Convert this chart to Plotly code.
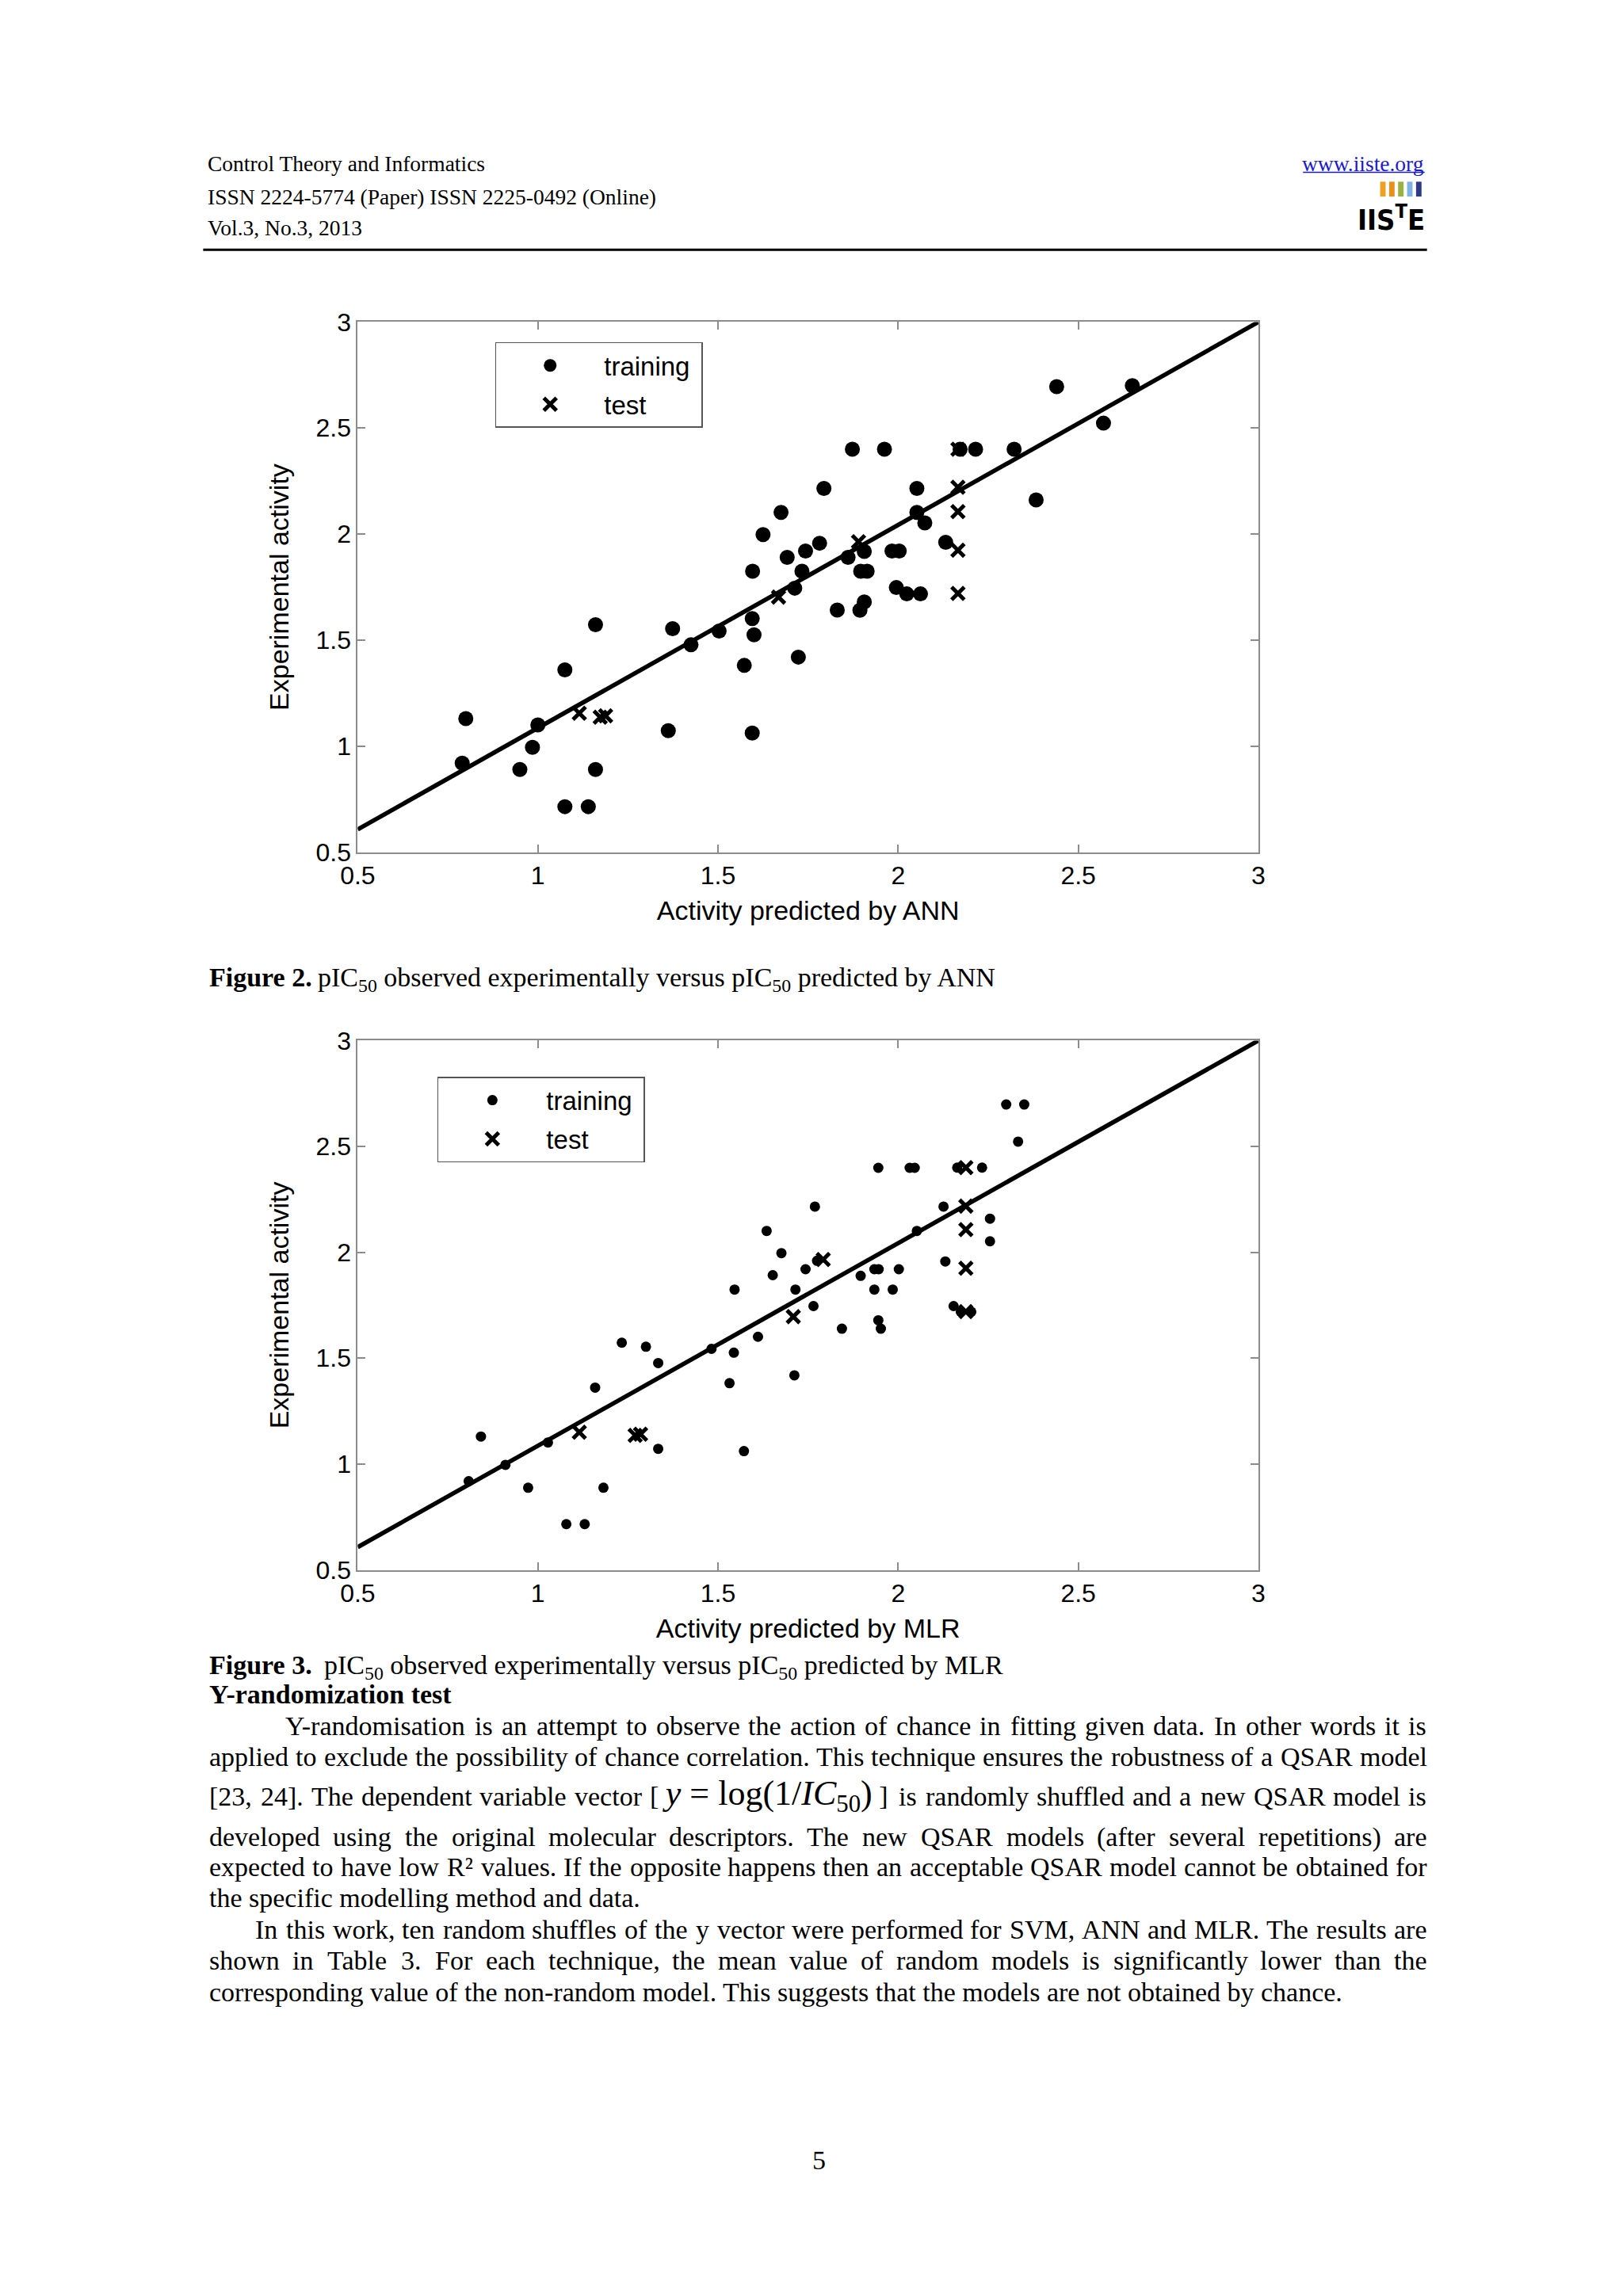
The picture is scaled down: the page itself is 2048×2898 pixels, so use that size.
import re
import plotly.graph_objects as go

W, H = 2048, 2898
SANS = "Liberation Sans, Arial, Helvetica, sans-serif"
SERIF = "Liberation Serif, Times New Roman, serif"

# ---------------- data: Figure 2 (ANN) ----------------
ann_train_x = [0.79, 0.80, 0.95, 0.985, 1.00, 1.075, 1.075, 1.14, 1.16, 1.16,
               1.374, 1.362, 1.425, 1.503, 1.595, 1.60, 1.573, 1.595, 1.723, 1.596,
               1.625, 1.675, 1.692, 1.713, 1.733, 1.743, 1.782, 1.794, 1.831, 1.861,
               1.873, 1.894, 1.906, 1.896, 1.914, 1.906, 1.962, 1.983, 2.003, 1.995,
               2.024, 2.062, 2.052, 2.052, 2.074, 2.132, 2.172, 2.215, 2.322, 2.383,
               2.44, 2.57, 2.65]
ann_train_y = [0.92, 1.13, 0.89, 0.995, 1.10, 1.36, 0.715, 0.715, 1.573, 0.89,
               1.554, 1.073, 1.478, 1.543, 1.602, 1.525, 1.381, 1.062, 1.42, 1.825,
               1.998, 2.102, 1.89, 1.745, 1.825, 1.92, 1.957, 2.215, 1.642, 1.89,
               2.40, 1.641, 1.68, 1.825, 1.825, 1.918, 2.40, 1.92, 1.92, 1.748,
               1.718, 1.718, 2.215, 2.102, 2.053, 1.961, 2.40, 2.40, 2.40, 2.161,
               2.695, 2.523, 2.70]
ann_test_x = [1.115, 1.173, 1.188, 1.668, 1.89, 2.166, 2.166, 2.166, 2.166, 2.166]
ann_test_y = [1.155, 1.137, 1.143, 1.703, 1.964, 2.40, 2.221, 2.106, 1.924, 1.72]

# ---------------- data: Figure 3 (MLR) ----------------
mlr_train_x = [0.808, 0.842, 0.91, 0.973, 1.028, 1.079, 1.13, 1.159, 1.182, 1.233,
               1.30, 1.334, 1.334, 1.482, 1.544, 1.532, 1.572, 1.611, 1.712, 1.546,
               1.635, 1.652, 1.676, 1.715, 1.743, 1.765, 1.769, 1.775, 1.844, 1.896,
               1.934, 1.946, 1.934, 1.945, 1.945, 1.952, 1.985, 2.002, 2.032, 2.046,
               2.052, 2.126, 2.131, 2.154, 2.164, 2.174, 2.203, 2.233, 2.255, 2.255,
               2.30, 2.35, 2.333]
mlr_train_y = [0.919, 1.13, 0.996, 0.888, 1.102, 0.716, 0.716, 1.361, 0.888, 1.573,
               1.554, 1.477, 1.072, 1.544, 1.526, 1.382, 1.061, 1.601, 1.419, 1.824,
               2.101, 1.892, 1.996, 1.824, 1.92, 1.746, 2.216, 1.96, 1.639, 1.889,
               1.92, 1.92, 1.824, 2.399, 1.679, 1.639, 1.824, 1.92, 2.399, 2.399,
               2.101, 2.216, 1.957, 1.746, 2.40, 1.719, 1.719, 2.40, 2.159, 2.052,
               2.698, 2.698, 2.523]
mlr_test_x = [1.115, 1.27, 1.285, 1.709, 1.792, 2.188, 2.188, 2.188, 2.188, 2.188]
mlr_test_y = [1.15, 1.135, 1.141, 1.696, 1.966, 2.40, 2.218, 2.107, 1.925, 1.72]

# fitted line (same in both figures)
fit_slope = 0.957
fit_intercept = 0.129
fit_x = [0.5, 3.0]

axis_ticks = [0.5, 1, 1.5, 2, 2.5, 3]
axis_range = [0.5, 3]

# ---------------- page geometry (pixels) ----------------
def px(x):
    return x / W

def py(y):
    return 1 - y / H

X_DOM = [px(436), px(1590)]
Y_DOM1 = [py(1071), py(393.3)]
Y_DOM2 = [py(1988.2), py(1311.7)]

fig = go.Figure()

fit_y = [fit_slope * v + fit_intercept for v in fit_x]

for (tx, ty, sx, sy, xa, ya, leg, csize) in [
    (ann_train_x, ann_train_y, ann_test_x, ann_test_y, 'x', 'y', 'legend', 19),
    (mlr_train_x, mlr_train_y, mlr_test_x, mlr_test_y, 'x2', 'y2', 'legend2', 13),
]:
    fig.add_trace(go.Scatter(
        x=tx, y=ty, mode='markers', name='training\u00a0', xaxis=xa, yaxis=ya,
        legend=leg, legendgroup=leg + 'a',
        marker=dict(symbol='circle', size=csize, color='black', line=dict(width=0)),
    ))
    fig.add_trace(go.Scatter(
        x=sx, y=sy, mode='markers', name='test', xaxis=xa, yaxis=ya,
        legend=leg, legendgroup=leg + 'b',
        marker=dict(symbol='x-thin', size=16, color='black',
                    line=dict(width=5, color='black')),
    ))
    fig.add_trace(go.Scatter(
        x=fit_x, y=fit_y, mode='lines', xaxis=xa, yaxis=ya, showlegend=False,
        line=dict(color='black', width=5.5), hoverinfo='skip',
    ))

axis_common = dict(
    range=axis_range, tickvals=axis_ticks, showline=True, linecolor='#8c8c8c',
    linewidth=2, mirror='ticks', ticks='inside', ticklen=10, tickwidth=1.5,
    tickcolor='#8c8c8c', showgrid=False, zeroline=False,
    tickfont=dict(family=SANS, size=32, color='black'),
)
title_font = dict(family=SANS, size=34, color='black')

fig.update_layout(
    xaxis=dict(axis_common, domain=X_DOM, anchor='y',
               title=dict(text='Activity predicted by ANN', standoff=15, font=title_font)),
    yaxis=dict(axis_common, domain=Y_DOM1, anchor='x',
               title=dict(text='Experimental activity', standoff=24, font=title_font)),
    xaxis2=dict(axis_common, domain=X_DOM, anchor='y2',
                title=dict(text='Activity predicted by MLR', standoff=15, font=title_font)),
    yaxis2=dict(axis_common, domain=Y_DOM2, anchor='x2',
                title=dict(text='Experimental activity', standoff=24, font=title_font)),
)

legend_common = dict(
    xanchor='left', yanchor='top', bgcolor='white', bordercolor='#555555',
    borderwidth=1.5, font=dict(family=SANS, size=33, color='black'),
    itemwidth=126, traceorder='grouped', tracegroupgap=3,
)
fig.update_layout(
    legend=dict(legend_common, x=px(612), y=py(419)),
    legend2=dict(legend_common, x=px(538), y=py(1358)),
)

# ---------------- page text ----------------
annotations = []
shapes = []

ASC, DESC = 0.891, 0.216  # Times-like metrics

def add_text(text, x, baseline, size, family=SERIF, anchor='left', color='black',
             mode='top', weight='normal'):
    if mode == 'top':
        yy, ya = baseline - ASC * size, 'top'
    elif mode == 'bottom':
        yy, ya = baseline + DESC * size, 'bottom'
    else:
        yy, ya = baseline - 0.34 * size, 'middle'
    annotations.append(dict(
        text=text, x=px(x), y=py(yy), xref='paper', yref='paper',
        xanchor=anchor, yanchor=ya, showarrow=False, borderpad=0,
        font=dict(family=family, size=size, color=color, weight=weight), align=anchor,
    ))

TNR = dict(zip("abcdefghijklmnopqrstuvwxyz",
               [444, 500, 444, 500, 444, 333, 500, 500, 278, 278, 500, 278, 778,
                500, 500, 500, 500, 333, 389, 278, 500, 500, 722, 500, 500, 444]))
TNR.update(zip("ABCDEFGHIJKLMNOPQRSTUVWXYZ",
               [722, 667, 667, 722, 611, 556, 722, 722, 333, 389, 722, 611, 889,
                722, 722, 556, 722, 667, 556, 611, 722, 722, 944, 722, 722, 611]))
TNR.update({c: 500 for c in "0123456789"})
TNR.update({' ': 250, '.': 250, ',': 250, '-': 333, '(': 333, ')': 333,
            '[': 333, ']': 333, '/': 278, ':': 278, ';': 278, '=': 564, '\u00b2': 300})
TNR_BOLD = {'F': 611, 'i': 278, 'g': 500, 'u': 556, 'r': 444, 'e': 444, ' ': 250,
            '2': 500, '3': 500, '.': 250}

def text_width(s, size):
    total, scale = 0.0, 1.0
    for part in re.split(r'(<[^>]+>)', s):
        if part.startswith('<'):
            tag = part.strip('<>/').split()[0]
            if tag in ('sub', 'sup'):
                scale = 1.0 if part.startswith('</') else 0.7
            continue
        for ch in part:
            total += TNR.get(ch, 500) * scale
    return total / 1000 * size

BODY = 34
RIGHT = 1804

def justified(words, x0, baseline, size=BODY, overrides=None):
    overrides = overrides or {}
    widths = [overrides.get(i, text_width(w, size)) for i, w in enumerate(words)]
    gap = (RIGHT - x0 - sum(widths)) / (len(words) - 1)
    x = x0
    for i, (w, wd) in enumerate(zip(words, widths)):
        mode = 'middle' if i in overrides else 'top'
        add_text(w, x, baseline, size, mode=mode)
        x += wd + gap

# header
HDR = 27.5
add_text('Control Theory and Informatics', 243, 199, HDR)
add_text('ISSN 2224-5774 (Paper) ISSN 2225-0492 (Online)', 243, 241, HDR)
add_text('Vol.3, No.3, 2013', 243, 281, HDR)
link_text = 'www.iiste.org'
add_text(link_text, 1803, 199, HDR, anchor='right', color='#1a1acc')
link_w = text_width(link_text, HDR)
shapes.append(dict(type='line', xref='paper', yref='paper', x0=px(1803 - link_w), x1=px(1803),
                   y0=py(202), y1=py(202), line=dict(color='#1a1acc', width=1.5)))
shapes.append(dict(type='line', xref='paper', yref='paper', x0=px(238), x1=px(1806),
                   y0=py(301), y1=py(301), line=dict(color='black', width=3)))
# logo
logo_colors = ['#f0a020', '#e8901c', '#9bb040', '#7fb2e5', '#2e3a87']
for i, c in enumerate(logo_colors):
    x0 = 1746 + i * 11.5
    shapes.append(dict(type='rect', xref='paper', yref='paper', x0=px(x0), x1=px(x0 + 7),
                       y0=py(233), y1=py(214), line=dict(width=0), fillcolor=c))
annotations.append(dict(text='IIS<sup>T</sup>E', x=px(1804), y=py(260), xref='paper',
                        yref='paper', xanchor='right', yanchor='middle', showarrow=False,
                        borderpad=0,
                        font=dict(family='Liberation Sans Narrow, DejaVu Sans Condensed, ' + SANS,
                                  size=36, color='black', weight='bold')))

# captions
fig_lbl_w = sum(TNR_BOLD.get(c, 500) for c in 'Figure 2.') / 1000 * BODY
add_text('Figure 2.', 245, 1241, BODY, weight='bold')
add_text('pIC<sub>50</sub> observed experimentally versus pIC<sub>50</sub> predicted by ANN',
         245 + fig_lbl_w + 0.25 * BODY, 1241, BODY)
add_text('Figure 3.', 245, 2120, BODY, weight='bold')
add_text('pIC<sub>50</sub> observed experimentally versus pIC<sub>50</sub> predicted by MLR',
         245 + fig_lbl_w + 0.5 * BODY, 2120, BODY)
add_text('Y-randomization test', 245, 2158, BODY, weight='bold')

# body text
justified("Y-randomisation is an attempt to observe the action of chance in fitting given data. In other words it is".split(),
          342, 2198)
justified("applied to exclude the possibility of chance correlation. This technique ensures the robustness of a QSAR model".split(),
          245, 2238)
line3 = "[23, 24]. The dependent variable vector".split() + \
    ['[ <span style="font-size:44px"><i>y</i> = log(1/<i>IC</i><sub>50</sub>)</span> ]'] + \
    "is randomly shuffled and a new QSAR model is".split()
justified(line3, 245, 2288, overrides={6: 308})
justified("developed using the original molecular descriptors. The new QSAR models (after several repetitions) are".split(),
          245, 2340)
justified("expected to have low R\u00b2 values. If the opposite happens then an acceptable QSAR model cannot be obtained for".split(),
          245, 2378)
add_text('the specific modelling method and data.', 245, 2418, BODY)
justified("In this work, ten random shuffles of the y vector were performed for SVM, ANN and MLR. The results are".split(),
          304, 2458)
justified("shown in Table 3. For each technique, the mean value of random models is significantly lower than the".split(),
          245, 2498)
add_text('corresponding value of the non-random model. This suggests that the models are not obtained by chance.',
         245, 2538, BODY)

# page number
add_text('5', 1027, 2753, BODY, anchor='center')

fig.update_layout(
    width=W, height=H, margin=dict(l=0, r=0, t=0, b=0),
    paper_bgcolor='white', plot_bgcolor='white', showlegend=True,
    annotations=annotations, shapes=shapes,
)

fig.write_html("out.html", config={'displayModeBar': False},
               post_script="document.body.style.margin='0';")
